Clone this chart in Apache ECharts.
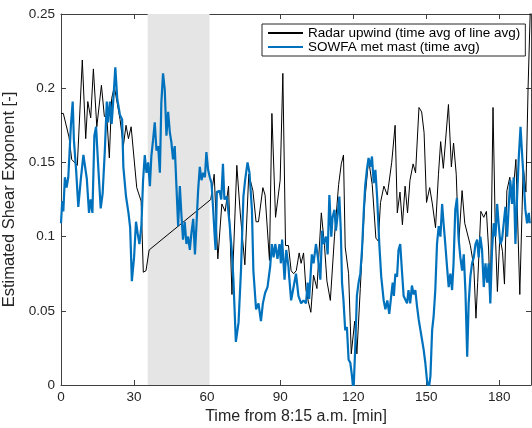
<!DOCTYPE html>
<html><head><meta charset="utf-8">
<script src="https://cdn.jsdelivr.net/npm/echarts@6/dist/echarts.min.js"></script>
<style>html,body{margin:0;padding:0;background:#fff}#c{width:532px;height:428px}</style>
</head><body><div id="c"></div>
<script>
// Tick labels
const xTickLabels = [0, 30, 60, 90, 120, 150, 180];
const yTickLabels = [0, 0.05, 0.1, 0.15, 0.2, 0.25];
// Shaded interval [min]
const shadeStart = 35.6;
const shadeEnd = 61;
// Radar upwind (time avg of line avg)
const radarX = [0,0.95,3.3,4.4,6.7,8.75,10.15,11.0,12.2,13.3,
14.7,16.6,17.8,18.8,19.85,20.8,21.9,24.25,25.6,26.7,
27.7,28.8,31.1,32.9,33.8,34.9,36.2,61.5,62.9,64.4,
66.05,67.4,68.8,70.2,72.2,73.6,75.5,77.1,78.8,80.1,
81.1,82.9,83.8,85.6,86.6,88.1,90.0,91.1,92.2,93.4,
94.5,95.5,96.6,97.8,98.6,99.6,100.6,101.6,102.6,103.7,
105.1,106.9,108.2,109.2,110.6,112.3,114.0,115.1,116.0,116.7,
118.1,119.2,120.6,121.5,122.9,124.7,126.3,127.8,129.3,130.3,
131.2,132.6,134.0,135.8,137.2,138.1,139.2,140.2,141.3,142.3,
143.3,144.6,145.6,147.0,148.1,149.1,150.1,151.4,152.5,153.8,
155.0,155.9,157.0,159.1,160.3,161.2,162.3,163.3,164.7,165.8,
168.1,169.5,170.4,171.1,172.4,173.6,174.7,175.6,176.3,177.4,
178.4,179.2,180.2,181.3,182.1,183.1,184.3,185.4,186.8,188.4,
189.8,190.9,191.8,193.0];
const radarY = [0.183,0.183,0.167,0.152,0.148,0.219,0.166,0.191,0.180,0.213,
0.174,0.202,0.181,0.181,0.153,0.193,0.201,0.179,0.161,0.175,
0.166,0.174,0.133,0.124,0.076,0.077,0.091,0.125,0.142,0.085,
0.122,0.117,0.134,0.061,0.148,0.116,0.081,0.142,0.131,0.110,
0.110,0.133,0.128,0.084,0.183,0.113,0.138,0.210,0.094,0.094,
0.077,0.075,0.077,0.089,0.082,0.089,0.064,0.056,0.049,0.074,
0.065,0.116,0.094,0.070,0.057,0.100,0.135,0.149,0.155,0.093,
0.075,0.021,0.043,0.021,0.065,0.123,0.152,0.135,0.099,0.097,
0.123,0.134,0.128,0.150,0.175,0.116,0.130,0.108,0.134,0.116,
0.138,0.149,0.143,0.187,0.184,0.170,0.123,0.133,0.122,0.106,
0.142,0.164,0.146,0.189,0.147,0.163,0.142,0.095,0.131,0.109,
0.094,0.080,0.045,0.069,0.117,0.113,0.117,0.091,0.056,0.187,
0.100,0.063,0.100,0.090,0.068,0.131,0.140,0.125,0.152,0.061,
0.147,0.130,0.200,0.27];
// SOWFA met mast (time avg)
const sowfaX = [0,0.5,0.95,1.6,2.3,3.0,3.7,4.1,4.8,5.3,
6.2,7.1,8.1,9.2,9.9,10.6,11.5,12.2,12.9,13.7,
14.4,15.3,16.3,17.1,18.0,18.8,19.4,20.1,20.8,21.6,
22.3,23.1,24.2,25.1,25.6,26.7,27.7,28.4,29.1,30.0,
30.8,31.5,32.2,33.0,33.7,34.4,35.1,35.8,36.5,37.1,
37.8,38.5,39.2,39.9,40.6,41.2,41.9,42.6,43.3,44.0,
44.7,45.3,46.0,46.7,47.4,48.1,48.8,49.4,50.1,50.8,
51.5,52.2,52.9,53.6,54.3,55.0,55.6,56.3,57.0,57.7,
58.4,59.1,59.7,60.4,61.1,61.8,62.5,63.2,63.5,64.0,
65.1,65.8,66.5,67.1,68.1,69.2,70.2,70.8,71.8,72.9,
73.9,74.9,75.6,76.6,77.4,78.4,79.0,80.1,81.1,82.1,
82.9,83.8,84.8,85.9,86.6,87.3,88.0,88.9,89.7,90.3,
90.8,91.8,92.5,93.4,93.7,94.5,95.5,96.5,97.5,98.6,
99.6,100.6,101.3,101.9,103.0,103.7,104.7,105.5,106.5,107.2,
107.8,108.8,109.5,110.2,111.0,111.5,112.3,112.9,113.7,114.3,
114.9,115.4,116.0,116.7,117.4,118.1,118.8,119.5,120.1,120.8,
121.5,122.2,122.9,123.6,124.3,124.9,125.6,126.3,127.0,127.7,
128.4,129.1,129.8,130.7,131.5,132.5,133.2,134.0,134.8,135.6,
136.2,136.7,137.3,138.0,138.6,139.3,140.0,140.7,141.4,142.1,
142.7,143.4,144.1,144.8,145.5,146.2,146.9,147.6,148.3,148.9,
149.6,150.3,151.0,151.7,152.4,153.0,153.7,154.4,155.1,155.8,
156.5,157.1,157.8,158.5,159.2,159.9,160.6,161.2,161.9,162.6,
163.3,164.0,164.7,165.4,166.1,166.8,167.4,168.1,168.8,169.5,
170.2,170.9,171.5,172.2,172.9,173.6,174.3,175.0,175.6,176.3,
177.0,177.7,178.4,179.1,179.7,180.4,181.1,181.8,182.5,183.2,
183.9,184.5,185.2,185.9,186.6,187.3,188.0,188.7,189.4,190.0,
190.7,191.4,192.1,192.5];
const sowfaY = [0.109,0.124,0.117,0.140,0.133,0.140,0.163,0.176,0.191,0.165,
0.145,0.120,0.138,0.155,0.155,0.139,0.116,0.125,0.116,0.168,
0.174,0.147,0.119,0.129,0.158,0.191,0.177,0.191,0.176,0.195,
0.214,0.193,0.182,0.179,0.147,0.127,0.116,0.106,0.070,0.086,
0.110,0.102,0.095,0.107,0.138,0.155,0.143,0.150,0.134,0.154,
0.165,0.177,0.158,0.161,0.143,0.190,0.210,0.199,0.168,0.184,
0.170,0.164,0.152,0.161,0.134,0.107,0.134,0.116,0.098,0.110,
0.095,0.100,0.091,0.103,0.112,0.088,0.107,0.131,0.147,0.138,
0.143,0.140,0.157,0.145,0.140,0.136,0.118,0.098,0.091,0.130,
0.131,0.125,0.149,0.125,0.127,0.109,0.089,0.071,0.029,0.042,
0.077,0.127,0.138,0.150,0.143,0.118,0.077,0.051,0.055,0.043,
0.055,0.062,0.066,0.080,0.095,0.086,0.095,0.085,0.095,0.082,
0.098,0.071,0.091,0.080,0.073,0.057,0.066,0.075,0.060,0.055,
0.057,0.055,0.069,0.058,0.088,0.082,0.095,0.086,0.071,0.104,
0.095,0.100,0.088,0.128,0.100,0.113,0.118,0.104,0.116,0.127,
0.104,0.069,0.057,0.037,0.039,0.017,0.015,0.006,-0.005,0.024,
0.060,0.069,0.075,0.091,0.116,0.134,0.145,0.153,0.147,0.154,
0.136,0.145,0.127,0.095,0.073,0.057,0.051,0.057,0.048,0.060,
0.069,0.060,0.075,0.073,0.091,0.095,0.077,0.060,0.061,0.055,
0.064,0.055,0.067,0.061,0.064,0.053,0.044,0.037,0.030,0.024,
0.015,0.003,-0.003,0.006,0.037,0.046,0.064,0.095,0.107,0.100,
0.122,0.109,0.095,0.080,0.066,0.075,0.064,0.082,0.118,0.126,
0.098,0.086,0.077,0.088,0.062,0.019,0.055,0.073,0.082,0.086,
0.095,0.098,0.086,0.100,0.091,0.066,0.082,0.069,0.082,0.055,
0.091,0.109,0.100,0.122,0.109,0.095,0.098,0.109,0.120,0.100,
0.122,0.138,0.122,0.140,0.095,0.127,0.154,0.174,0.154,0.138,
0.118,0.109,0.116,0.109];

const radarData = radarX.map((x, i) => [x, radarY[i]]);
const sowfaData = sowfaX.map((x, i) => [x, sowfaY[i]]);

const FONT = '"Liberation Sans", Arial, Helvetica, sans-serif';
const TXT = '#262626';
const AX = '#404040';

function baseX(pos, showLabel) {
  return {
    type: 'value', position: pos, min: 0, max: 193, interval: 30,
    axisLine: { show: true, onZero: false, lineStyle: { color: AX, width: 1 } },
    axisTick: { show: true, inside: true, length: 5, lineStyle: { color: AX } },
    splitLine: { show: false },
    axisLabel: {
      show: showLabel, color: TXT, fontSize: 13.5, fontFamily: FONT, margin: 5,
      showMaxLabel: false,
      formatter: v => xTickLabels.includes(Math.round(v)) && Math.abs(v - Math.round(v)) < 1e-6 ? String(Math.round(v)) : ''
    }
  };
}
function baseY(pos, showLabel) {
  return {
    type: 'value', position: pos, min: 0, max: 0.25, interval: 0.05,
    axisLine: { show: true, onZero: false, lineStyle: { color: AX, width: 1 } },
    axisTick: { show: true, inside: true, length: 5, lineStyle: { color: AX } },
    splitLine: { show: false },
    axisLabel: {
      show: showLabel, color: TXT, fontSize: 13.5, fontFamily: FONT, margin: 6,
      formatter: v => {
        const t = yTickLabels.find(k => Math.abs(k - v) < 1e-9);
        return t === undefined ? '' : String(t);
      }
    }
  };
}

const xMain = baseX('bottom', true);
xMain.name = 'Time from 8:15 a.m. [min]';
xMain.nameLocation = 'middle';
xMain.nameGap = 20;
xMain.nameTextStyle = { color: TXT, fontSize: 16, fontFamily: FONT };
const yMain = baseY('left', true);
yMain.name = 'Estimated Shear Exponent [-]';
yMain.nameLocation = 'middle';
yMain.nameGap = 32;
yMain.nameTextStyle = { color: TXT, fontSize: 16.5, fontFamily: FONT };

const chart = echarts.init(document.getElementById('c'), null, { renderer: 'canvas' });
chart.setOption({
  animation: false,
  backgroundColor: '#fff',
  textStyle: { fontFamily: FONT },
  grid: { left: 61, right: 1, top: 14, bottom: 43, containLabel: false, outerBoundsMode: 'none' },
  xAxis: [xMain, baseX('top', false)],
  yAxis: [yMain, baseY('right', false)],
  legend: {
    orient: 'vertical', left: 262, top: 24,
    itemWidth: 35, itemHeight: 13, itemGap: 0, itemTextGap: 4,
    padding: [2, 5, 2, 5],
    borderColor: '#262626', borderWidth: 1, backgroundColor: '#fff',
    itemStyle: { opacity: 0 },
    textStyle: { color: '#000', fontSize: 13.5, fontFamily: FONT, lineHeight: 13 },
    data: ['Radar upwind (time avg of line avg)', 'SOWFA met mast (time avg)']
  },
  series: [
    {
      type: 'line', name: 'shade', data: [], silent: true, z: 0,
      markArea: {
        silent: true,
        itemStyle: { color: '#e5e5e5' },
        data: [[{ xAxis: shadeStart }, { xAxis: shadeEnd }]]
      }
    },
    {
      type: 'line', name: 'Radar upwind (time avg of line avg)', data: radarData,
      symbol: 'none', z: 2, clip: true,
      lineStyle: { color: '#000', width: 1 }, itemStyle: { color: '#000' }
    },
    {
      type: 'line', name: 'SOWFA met mast (time avg)', data: sowfaData,
      symbol: 'none', z: 3, clip: true,
      lineStyle: { color: '#0072BD', width: 2.2 }, itemStyle: { color: '#0072BD' }
    }
  ]
});
</script></body></html>
